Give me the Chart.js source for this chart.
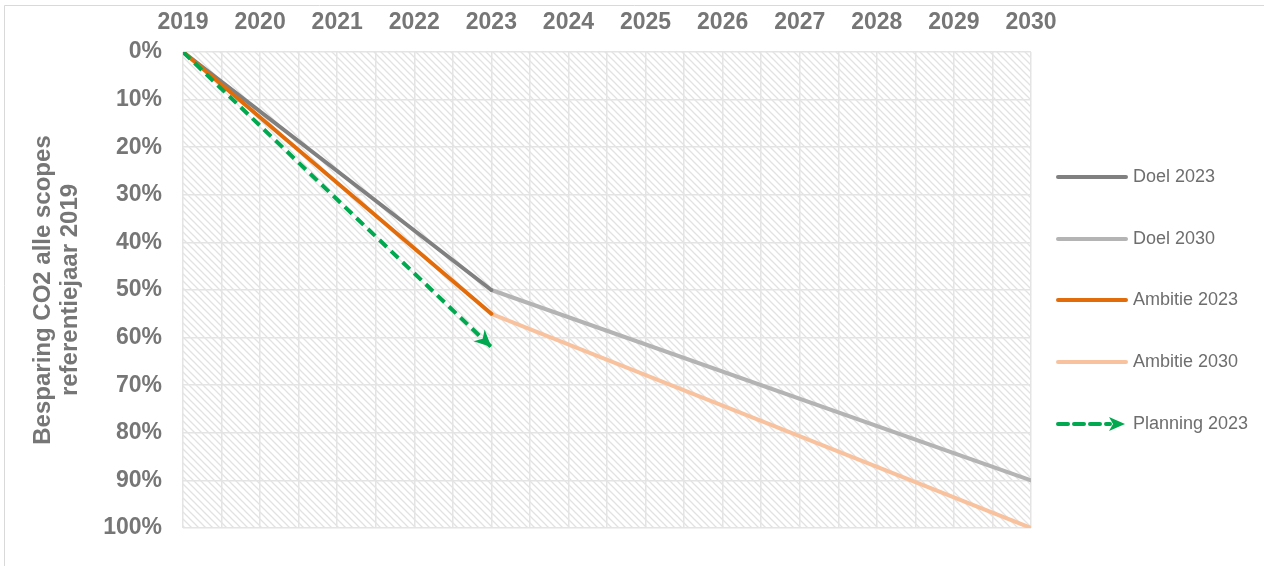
<!DOCTYPE html>
<html><head><meta charset="utf-8">
<script src="https://cdn.jsdelivr.net/npm/chart.js@4"></script>
<style>html,body{margin:0;padding:0;background:#fff;overflow:hidden;} #wrap{width:1264px;height:566px;position:relative;}</style>
</head><body><div id="wrap"><canvas id="c" width="1264" height="566"></canvas></div>
<script>
// ---- data ----
const xTickLabels = ['2019','2020','2021','2022','2023','2024','2025','2026','2027','2028','2029','2030'];
const yTickLabels = ['0%','10%','20%','30%','40%','50%','60%','70%','80%','90%','100%'];
const yearsTo2023 = [2019, 2023];
const years2023To2030 = [2023, 2030];
const doel2023 = [0, 0.50];
const doel2030 = [0.50, 0.90];
const ambitie2023 = [0, 0.55];
const ambitie2030 = [0.55, 1.00];
const planning2023 = [0, 0.62];
const seriesNames = ['Doel 2023', 'Doel 2030', 'Ambitie 2023', 'Ambitie 2030', 'Planning 2023'];

const FONT = "'Liberation Sans', Arial, sans-serif";
const TXT = '#767676';

function pts(xs, ys) { return xs.map((x, i) => ({ x: x, y: ys[i] })); }

// hatch pattern
const pc = document.createElement('canvas'); pc.width = 7; pc.height = 7;
const pg = pc.getContext('2d');
pg.strokeStyle = '#e2e2e2'; pg.lineWidth = 1.3;
pg.beginPath();
pg.moveTo(-2, -2); pg.lineTo(9, 9);
pg.moveTo(-2, 5); pg.lineTo(2, 9);
pg.moveTo(5, -2); pg.lineTo(9, 2);
pg.stroke();

const bgPlugin = {
  id: 'bg',
  beforeDraw(chart) {
    const ctx = chart.ctx, a = chart.chartArea;
    ctx.save();
    ctx.fillStyle = '#fff'; ctx.fillRect(0, 0, chart.width, chart.height);
    ctx.strokeStyle = '#d9d9d9'; ctx.lineWidth = 1;
    ctx.beginPath(); ctx.moveTo(4.5, chart.height); ctx.lineTo(4.5, 5.5); ctx.lineTo(chart.width, 5.5); ctx.stroke();
    ctx.fillStyle = ctx.createPattern(pc, 'repeat');
    ctx.fillRect(a.left, a.top, a.right - a.left, a.bottom - a.top);
    ctx.restore();
  }
};

const arrowPlugin = {
  id: 'arrow',
  afterDatasetsDraw(chart) {
    const meta = chart.getDatasetMeta(4);
    const d = meta.data; if (d.length < 2) return;
    const p1 = d[d.length - 1], p0 = d[d.length - 2];
    const ang = Math.atan2(p1.y - p0.y, p1.x - p0.x);
    const ctx = chart.ctx;
    ctx.save();
    ctx.translate(p1.x, p1.y); ctx.rotate(ang);
    ctx.fillStyle = '#00a84f';
    ctx.beginPath(); ctx.moveTo(0, 0); ctx.lineTo(-17, -8); ctx.lineTo(-12, 0); ctx.lineTo(-17, 8); ctx.closePath(); ctx.fill();
    ctx.restore();
  }
};

const legendPlugin = {
  id: 'customLegend',
  afterDraw(chart) {
    const ctx = chart.ctx;
    const ys = [177, 239, 300, 362, 424];
    ctx.save();
    chart.data.datasets.forEach((ds, i) => {
      const y = ys[i];
      ctx.strokeStyle = ds.borderColor; ctx.lineWidth = 4; ctx.lineCap = 'round';
      if (ds.borderDash && ds.borderDash.length) {
        ctx.setLineDash(ds.borderDash);
        ctx.beginPath(); ctx.moveTo(1058, y); ctx.lineTo(1110, y); ctx.stroke();
        ctx.setLineDash([]);
        ctx.fillStyle = ds.borderColor;
        ctx.beginPath(); ctx.moveTo(1125, y); ctx.lineTo(1109, y - 7); ctx.lineTo(1113, y); ctx.lineTo(1109, y + 7); ctx.closePath(); ctx.fill();
      } else {
        ctx.beginPath(); ctx.moveTo(1058, y); ctx.lineTo(1126, y); ctx.stroke();
      }
      ctx.fillStyle = '#6e6e6e'; ctx.font = '18px ' + FONT; ctx.textBaseline = 'middle'; ctx.textAlign = 'left';
      ctx.fillText(ds.label, 1133, y);
    });
    ctx.restore();
  }
};

new Chart(document.getElementById('c'), {
  type: 'line',
  data: {
    datasets: [
      { label: seriesNames[0], data: pts(yearsTo2023, doel2023), borderColor: '#808080', borderWidth: 4, pointRadius: 0, order: 2, borderCapStyle: 'round' },
      { label: seriesNames[1], data: pts(years2023To2030, doel2030), borderColor: '#b4b4b4', borderWidth: 4, pointRadius: 0, order: 3, borderCapStyle: 'round' },
      { label: seriesNames[2], data: pts(yearsTo2023, ambitie2023), borderColor: '#e36c0a', borderWidth: 4, pointRadius: 0, order: 1, borderCapStyle: 'round' },
      { label: seriesNames[3], data: pts(years2023To2030, ambitie2030), borderColor: '#f9c29e', borderWidth: 4, pointRadius: 0, order: 3, borderCapStyle: 'round' },
      { label: seriesNames[4], data: pts(yearsTo2023, planning2023), borderColor: '#00a84f', borderWidth: 4, pointRadius: 0, order: 0, borderDash: [10, 6] }
    ]
  },
  options: {
    responsive: false,
    animation: false,
    devicePixelRatio: 1,
    layout: { padding: { left: 0, top: 0, right: 233, bottom: 38 } },
    plugins: { legend: { display: false }, tooltip: { enabled: false } },
    scales: {
      x: {
        type: 'linear', position: 'top', min: 2019, max: 2030,
        ticks: {
          stepSize: 0.5, autoSkip: false, maxRotation: 0, minRotation: 0, padding: 16,
          color: TXT, font: { family: FONT, size: 23, weight: 'bold' },
          callback: (v) => (Math.abs(v - Math.round(v)) < 1e-6 ? xTickLabels[Math.round(v) - 2019] : '')
        },
        grid: { color: '#e4e4e4', lineWidth: 1.5, drawTicks: false },
        border: { display: false },
        afterFit: s => { s.height = 52; }
      },
      y: {
        type: 'linear', reverse: true, min: 0, max: 1,
        ticks: {
          stepSize: 0.1, padding: 21, color: TXT, font: { family: FONT, size: 23, weight: 'bold' },
          callback: (v) => yTickLabels[Math.round(v * 10)]
        },
        grid: { color: '#e4e4e4', lineWidth: 1.5, drawTicks: false },
        border: { display: false },
        title: {
          display: true, text: ['Besparing CO2 alle scopes', 'referentiejaar 2019'], color: TXT,
          font: { family: FONT, size: 24, weight: 'bold', lineHeight: 1.12 }, padding: { top: 30, bottom: 0 }
        },
        afterFit: s => { s.width = 183; }
      }
    }
  },
  plugins: [bgPlugin, arrowPlugin, legendPlugin]
});
</script>
</body></html>
